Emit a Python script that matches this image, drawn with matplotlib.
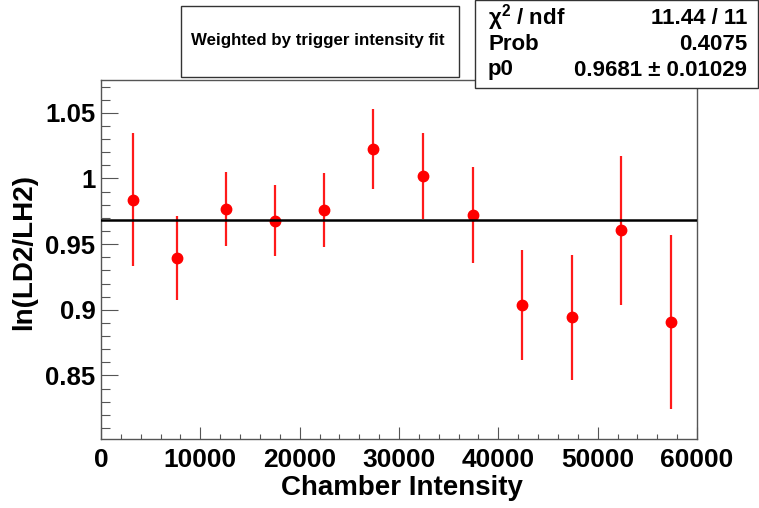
"""
ln(LD2/LH2) vs chamber intensity - ROOT style fit plot
"""

import matplotlib
matplotlib.use('Agg')
import matplotlib.pyplot as plt
from matplotlib.ticker import MultipleLocator
from matplotlib.patches import Rectangle

plt.rcParams['font.family'] = ['Liberation Sans', 'DejaVu Sans']
plt.rcParams['font.weight'] = 'bold'
plt.rcParams['mathtext.fontset'] = 'custom'
plt.rcParams['mathtext.rm'] = 'Liberation Sans:bold'
plt.rcParams['mathtext.it'] = 'Liberation Sans:bold'

# data
intensity = [3200, 7650, 12600, 17500, 22450, 27400, 32400, 37450, 42400, 47400, 52350, 57400]
ratio = [0.9838, 0.9393, 0.9767, 0.9680, 0.9761, 1.0224, 1.0020, 0.9723, 0.9037, 0.8944, 0.9604, 0.8908]
ratio_err = [0.0508, 0.0318, 0.0284, 0.0272, 0.0282, 0.0302, 0.0328, 0.0365, 0.0417, 0.0476, 0.0569, 0.0665]

fit_p0 = 0.9681
stats_names = ['\u03c7$^{2}$ / ndf', 'Prob', 'p0']
stats_values = ['11.44 / 11', '0.4075', '0.9681 \u00b1 0.01029']
title_text = 'Weighted by trigger intensity fit'

x_range = (0, 60000)
y_range = (0.802, 1.075)

W, H = 759, 508
fig = plt.figure(figsize=(W / 100, H / 100), dpi=100)
ax = fig.add_axes([101 / W, 1 - 438.5 / H, (697 - 101) / W, (438.5 - 80) / H])

frame_col = '#555555'
for sp in ax.spines.values():
    sp.set_color(frame_col)
    sp.set_linewidth(1.0)

# points with error bars
ax.errorbar(intensity, ratio, yerr=ratio_err, fmt='o', color='#ff0000',
            ecolor='#ff1a1a', markersize=7.5, elinewidth=1.6, capsize=0, zorder=3)

# constant fit
ax.plot(x_range, [fit_p0, fit_p0], color='black', lw=1.8, zorder=4)

ax.set_xlim(*x_range)
ax.set_ylim(*y_range)

ax.xaxis.set_major_locator(MultipleLocator(10000))
ax.xaxis.set_minor_locator(MultipleLocator(2000))
ax.yaxis.set_major_locator(MultipleLocator(0.05))
ax.yaxis.set_minor_locator(MultipleLocator(0.01))
ax.yaxis.set_major_formatter(matplotlib.ticker.FuncFormatter(lambda v, p: f'{v:g}'))

ax.tick_params(axis='x', which='major', direction='in', length=8.5, width=0.8,
               color=frame_col, labelsize=19, pad=7)
ax.tick_params(axis='x', which='minor', direction='in', length=3.8, width=0.8, color=frame_col)
ax.tick_params(axis='y', which='major', direction='in', length=12, width=0.8,
               color=frame_col, labelsize=18.5, pad=4)
ax.tick_params(axis='y', which='minor', direction='in', length=6.3, width=0.8, color=frame_col)
for lab in ax.get_xticklabels() + ax.get_yticklabels():
    lab.set_fontweight('bold')

ax.set_xlabel('Chamber Intensity', fontsize=20, fontweight='bold')
ax.set_ylabel('ln(LD2/LH2)', fontsize=20, fontweight='bold')
ax.yaxis.set_label_coords(37 / W, 1 - 252 / H, transform=fig.transFigure)
ax.xaxis.set_label_coords(402 / W, 1 - 475 / H, transform=fig.transFigure)

# title box
box_col = '#333333'
fig.patches.append(Rectangle((181 / W, 1 - 77 / H), (459 - 181) / W, (77 - 6) / H,
                             transform=fig.transFigure, facecolor='white',
                             edgecolor=box_col, lw=1.0, zorder=5))
fig.text(318 / W, 1 - 41 / H, title_text, ha='center', va='center',
         fontsize=12.2, fontweight='bold', zorder=6)

# stats box
fig.patches.append(Rectangle((475 / W, 1 - 88 / H), (758 - 475) / W, 88 / H,
                             transform=fig.transFigure, facecolor='white',
                             edgecolor=box_col, lw=1.0, zorder=5))
row_y = [18, 45, 70]
for name, val, yy in zip(stats_names, stats_values, row_y):
    fig.text(488 / W, 1 - yy / H, name, ha='left', va='center',
             fontsize=16, fontweight='bold', zorder=6)
    fig.text(747 / W, 1 - yy / H, val, ha='right', va='center',
             fontsize=16, fontweight='bold', zorder=6)

fig.savefig('out.png', dpi=100)
